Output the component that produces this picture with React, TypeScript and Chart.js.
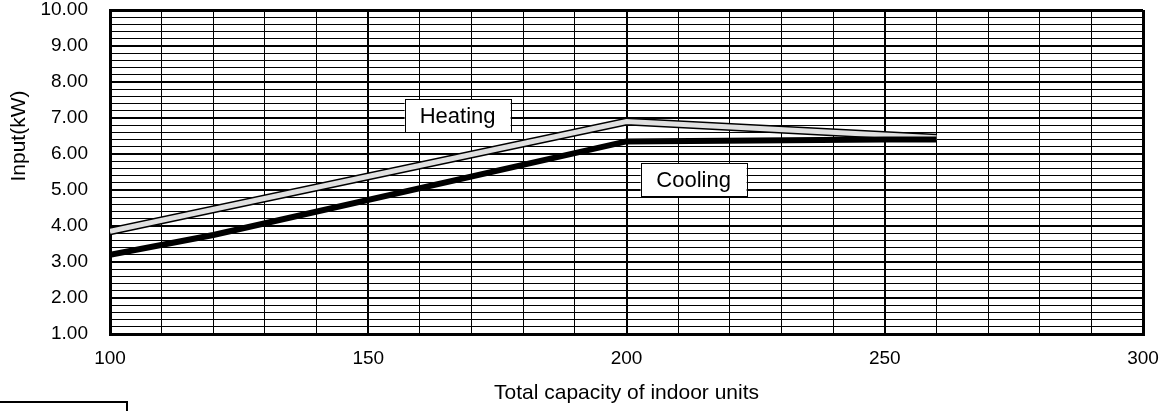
import React, { useEffect, useRef } from "react";
import { Chart, registerables } from "chart.js";

Chart.register(...registerables);

const heatingX = [100, 200, 260];
const heatingY = [3.85, 6.9, 6.45];
const coolingX = [100, 120, 200, 250, 260];
const coolingY = [3.2, 3.75, 6.35, 6.4, 6.4];
const xTickLabels = [100, 150, 200, 250, 300];
const yTickLabels = ["1.00", "2.00", "3.00", "4.00", "5.00", "6.00", "7.00", "8.00", "9.00", "10.00"];
const yTitle = "Input(kW)";
const xTitle = "Total capacity of indoor units";
const notes = [
  { text: "Heating", x: 167.3, y: 7.07 },
  { text: "Cooling", x: 213, y: 5.28 },
];

const FONT = "'Liberation Sans', Arial, sans-serif";

const boxPlugin = {
  id: "boxes",
  afterDatasetsDraw(chart: any) {
    const ctx = chart.ctx;
    const xs = chart.scales.x;
    const ys = chart.scales.y;
    ctx.save();
    ctx.font = `22px ${FONT}`;
    ctx.textAlign = "center";
    ctx.textBaseline = "middle";
    for (const n of notes) {
      const cx = xs.getPixelForValue(n.x);
      const cy = ys.getPixelForValue(n.y);
      const w = 106, h = 33;
      ctx.fillStyle = "#fff";
      ctx.fillRect(cx - w / 2, cy - h / 2, w, h);
      ctx.strokeStyle = "#000";
      ctx.lineWidth = 1;
      ctx.strokeRect(Math.round(cx - w / 2) + 0.5, Math.round(cy - h / 2) + 0.5, w, h);
      ctx.fillStyle = "#000";
      ctx.fillText(n.text, cx, cy + 1);
    }
    ctx.restore();
  },
  afterDraw(chart: any) {
    const ctx = chart.ctx;
    const ys = chart.scales.y;
    ctx.save();
    ctx.strokeStyle = "#000";
    ctx.lineWidth = 2;
    ctx.strokeRect(-5, 402, 132, 30);
    // y axis title
    ctx.translate(19, ys.getPixelForValue(6.5));
    ctx.rotate(-Math.PI / 2);
    ctx.font = `21px ${FONT}`;
    ctx.fillStyle = "#000";
    ctx.textAlign = "center";
    ctx.textBaseline = "middle";
    ctx.fillText(yTitle, 0, 0);
    ctx.restore();
  },
};

export default function App() {
  const ref = useRef<HTMLCanvasElement>(null);
  useEffect(() => {
    const prev = document.body.style.margin;
    document.body.style.margin = "0";
    const isInt = (v: number) => Math.abs(v - Math.round(v)) < 1e-6;
    const chart = new Chart(ref.current!, {
      type: "line",
      data: {
        datasets: [
          {
            data: heatingX.map((x, i) => ({ x, y: heatingY[i] })),
            borderColor: "#000",
            borderWidth: 8,
            pointRadius: 0,
            tension: 0,
            borderJoinStyle: "miter",
            order: 3,
          },
          {
            data: heatingX.map((x, i) => ({ x, y: heatingY[i] })),
            borderColor: "#e0e0e0",
            borderWidth: 5,
            pointRadius: 0,
            tension: 0,
            borderJoinStyle: "miter",
            order: 2,
          },
          {
            data: coolingX.map((x, i) => ({ x, y: coolingY[i] })),
            borderColor: "#000",
            borderWidth: 6,
            pointRadius: 0,
            tension: 0,
            borderJoinStyle: "miter",
            order: 1,
          },
        ],
      },
      options: {
        animation: false,
        responsive: false,
        maintainAspectRatio: false,
        layout: { padding: { top: 10, right: 25, left: 0, bottom: 0 } },
        plugins: { legend: { display: false }, tooltip: { enabled: false } },
        scales: {
          x: {
            type: "linear",
            min: 100,
            max: 300,
            afterFit: (s: any) => {
              s.height = 77;
              s.paddingLeft = 0;
              s.paddingRight = 0;
            },
            ticks: {
              stepSize: 10,
              autoSkip: false,
              maxRotation: 0,
              padding: 13,
              color: "#000",
              font: { family: FONT, size: 19 },
              callback: (v: any) => (xTickLabels.includes(Number(v)) ? String(v) : ""),
            },
            grid: {
              drawTicks: false,
              color: "#000",
              lineWidth: (c: any) => {
                const v = c.tick ? c.tick.value : 0;
                if (v === 100 || v === 300) return 3;
                return v % 50 === 0 ? 2 : 1;
              },
            },
            border: { color: "#000", width: 3 },
            title: {
              display: true,
              text: xTitle,
              color: "#000",
              font: { family: FONT, size: 21 },
              padding: { top: 0, bottom: 5 },
            },
          },
          y: {
            type: "linear",
            min: 1,
            max: 10,
            afterFit: (s: any) => {
              s.width = 110;
              s.paddingTop = 0;
              s.paddingBottom = 0;
            },
            ticks: {
              stepSize: 0.2,
              autoSkip: false,
              padding: 22,
              color: "#000",
              font: { family: FONT, size: 19 },
              callback: (v: any) => {
                const n = Number(v);
                return isInt(n) ? yTickLabels[Math.round(n) - 1] : "";
              },
            },
            grid: {
              drawTicks: false,
              color: "#000",
              lineWidth: (c: any) => {
                const v = c.tick ? c.tick.value : 0;
                if (Math.abs(v - 10) < 1e-6 || Math.abs(v - 1) < 1e-6) return 3;
                return isInt(v) ? 2 : 1;
              },
            },
            border: { color: "#000", width: 3 },
            title: { display: false },
          },
        },
      },
      plugins: [boxPlugin],
    } as any);
    return () => {
      chart.destroy();
      document.body.style.margin = prev;
    };
  }, []);
  return (
    <div style={{ position: "relative", width: 1168, height: 411 }}>
      <canvas ref={ref} width={1168} height={411} style={{ display: "block" }} />
    </div>
  );
}
